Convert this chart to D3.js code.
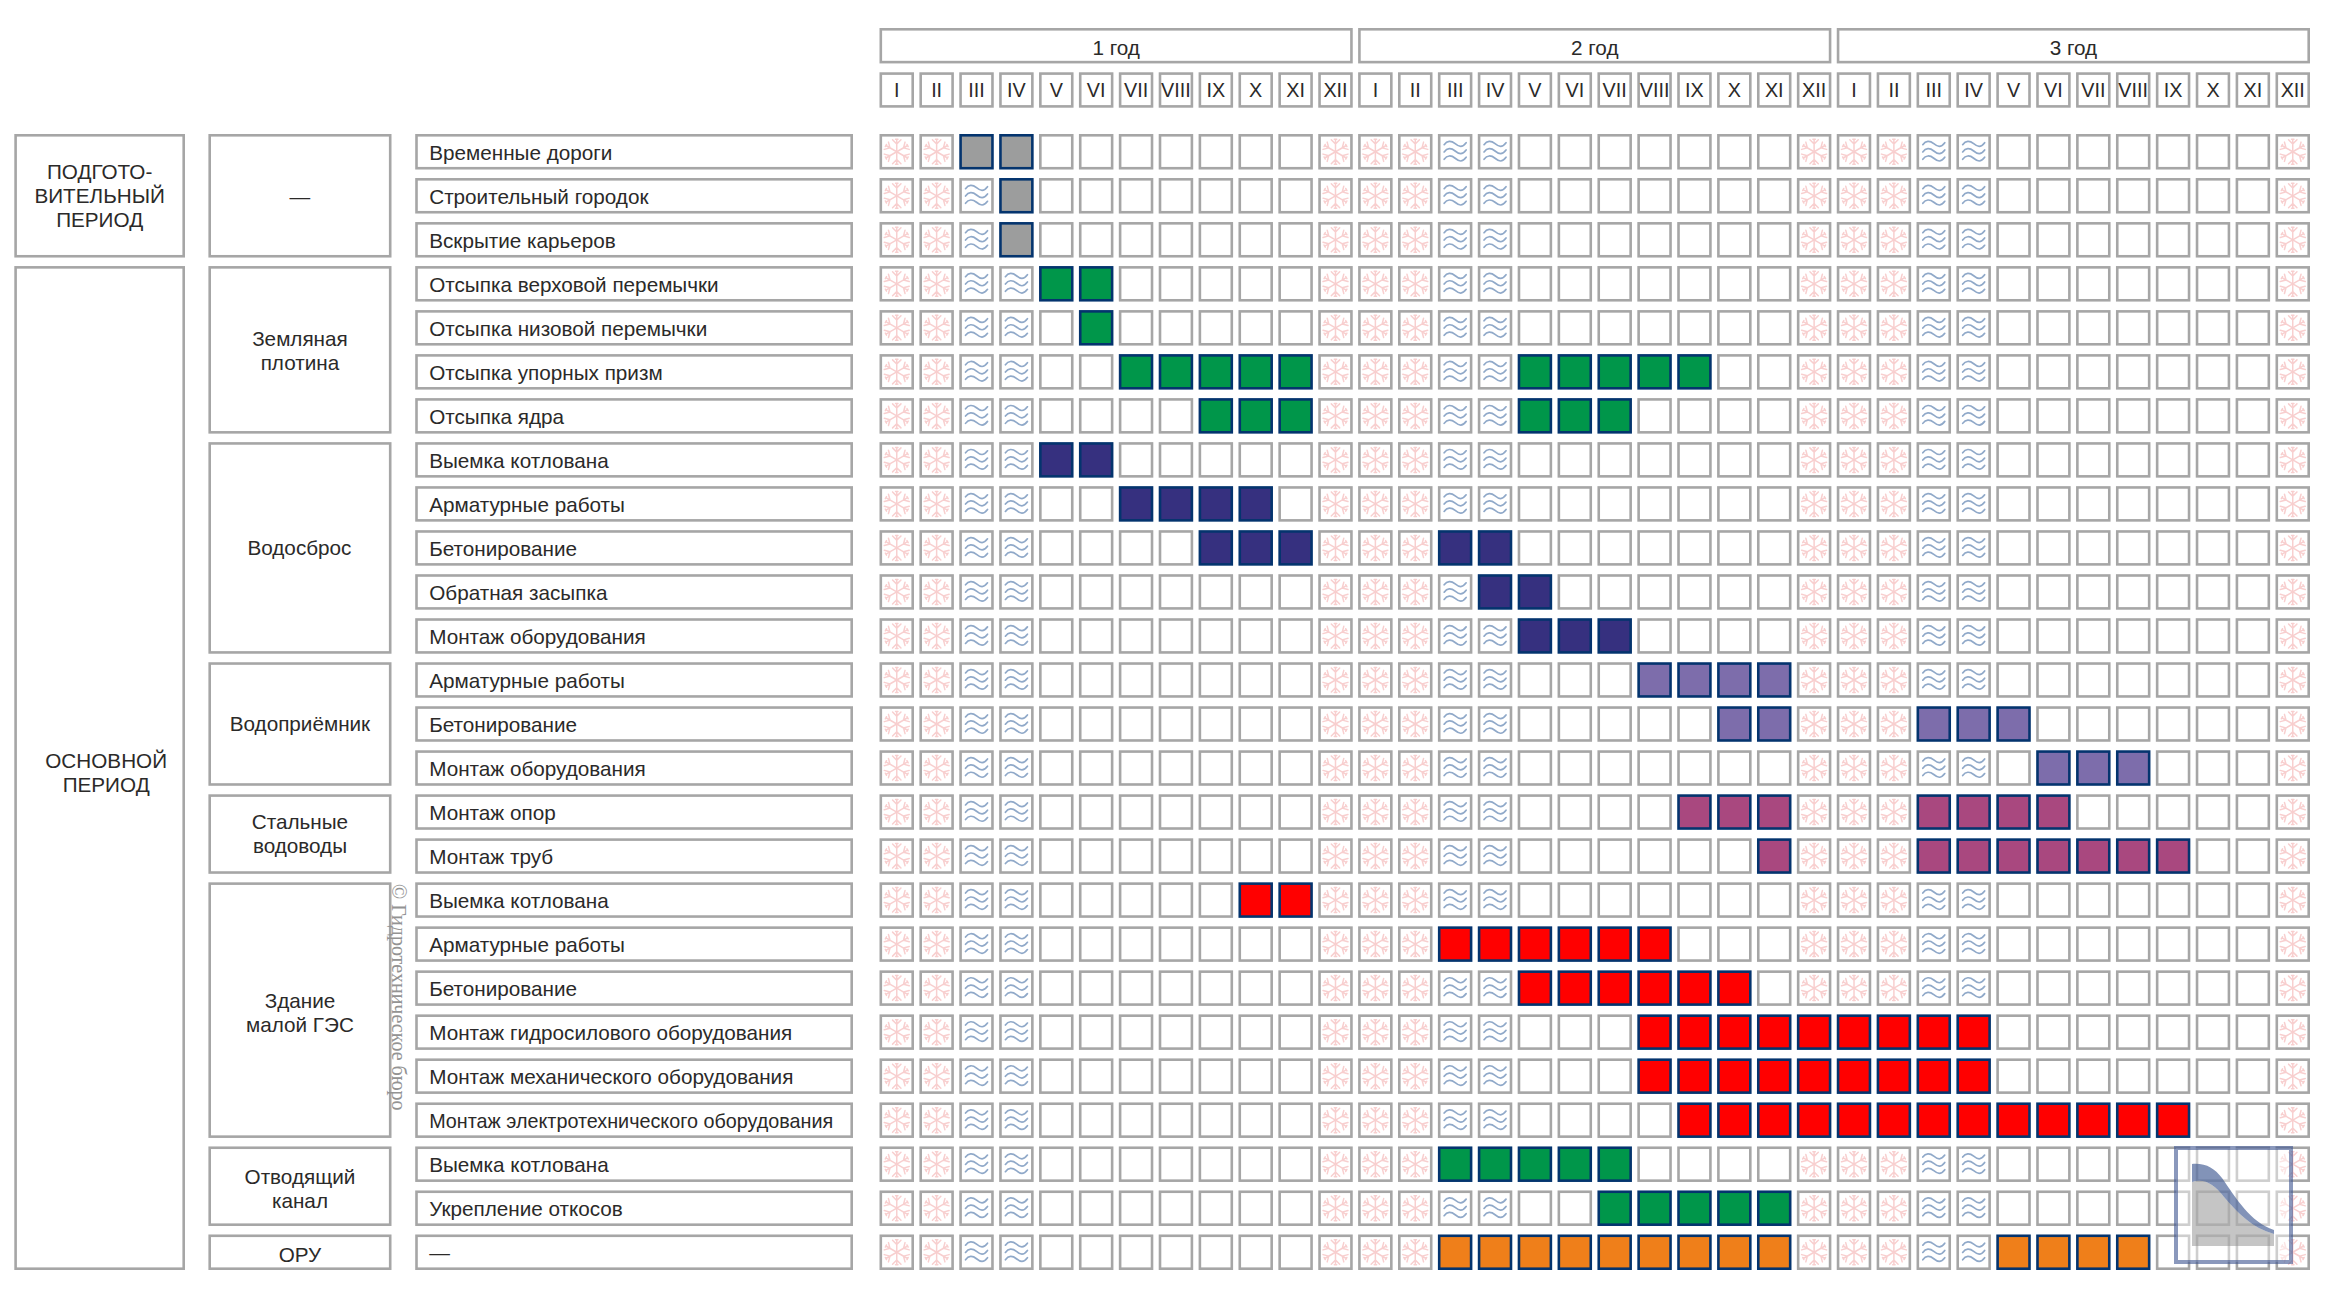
<!DOCTYPE html>
<html lang="ru">
<head>
<meta charset="utf-8">
<title>Календарный график строительства</title>
<script src="https://cdnjs.cloudflare.com/ajax/libs/d3/7.9.0/d3.min.js"></script>
<style>
html,body{margin:0;padding:0;background:#fff;}
svg{display:block;}
text{font-family:"Liberation Sans",Arial,sans-serif;fill:#2b2a29;}
</style>
</head>
<body>
<svg id="chart" width="2328" height="1300" viewBox="0 0 2328 1300"></svg>
<script>
// ---------- data ----------
const years = ["1 год", "2 год", "3 год"];
const months = ["I","II","III","IV","V","VI","VII","VIII","IX","X","XI","XII"];
const winterMonths = ["I","II","XII"];
const floodMonths = ["III","IV"];

const periods = [
  {lines:["ПОДГОТО-","ВИТЕЛЬНЫЙ","ПЕРИОД"], count:3},
  {lines:["ОСНОВНОЙ","ПЕРИОД"], count:23}
];
const groups = [
  {key:"prep",   lines:["—"], count:3},
  {key:"dam",    lines:["Земляная","плотина"], count:4},
  {key:"spill",  lines:["Водосброс"], count:5},
  {key:"intake", lines:["Водоприёмник"], count:3},
  {key:"pipes",  lines:["Стальные","водоводы"], count:2},
  {key:"hpp",    lines:["Здание","малой ГЭС"], count:6},
  {key:"canal",  lines:["Отводящий","канал"], count:2},
  {key:"switch", lines:["ОРУ"], count:1}
];
const tasks = [
  "Временные дороги","Строительный городок","Вскрытие карьеров",
  "Отсыпка верховой перемычки","Отсыпка низовой перемычки","Отсыпка упорных призм","Отсыпка ядра",
  "Выемка котлована","Арматурные работы","Бетонирование","Обратная засыпка","Монтаж оборудования",
  "Арматурные работы","Бетонирование","Монтаж оборудования",
  "Монтаж опор","Монтаж труб",
  "Выемка котлована","Арматурные работы","Бетонирование","Монтаж гидросилового оборудования","Монтаж механического оборудования","Монтаж электротехнического оборудования",
  "Выемка котлована","Укрепление откосов",
  "—"
];
// working spans per task: [first month, last month] counted from month 0 of year 1
const workSpans = [
  [[2,3]],[[3,3]],[[3,3]],
  [[4,5]],[[5,5]],[[6,10],[16,20]],[[8,10],[16,18]],
  [[4,5]],[[6,9]],[[8,10],[14,15]],[[15,16]],[[16,18]],
  [[19,22]],[[21,22],[26,28]],[[29,31]],
  [[20,22],[26,29]],[[22,22],[26,32]],
  [[9,10]],[[14,19]],[[16,21]],[[19,27]],[[19,27]],[[20,32]],
  [[14,18]],[[18,22]],
  [[14,22],[28,31]]
];
const watermark = "© Гидротехническое бюро";

// ---------- styles ----------
const groupColor = {prep:"#9c9d9d",dam:"#00964a",spill:"#36307f",intake:"#7d6dab",pipes:"#a9487f",hpp:"#ff0000",canal:"#00964a",switch:"#ef7f1a"};
const boxStroke = "#a6a6a6", workStroke = "#04346e";
const snowColor = "#f8cfcf", waveColor = "#90a9c9";
const fs = 20.7, monthFs = 19.8, sw = 2.6;
// label nudges, layout only
const periodNudge = [[0,-1],[6.5,4]];
const groupNudge = {spill:[-0.5,-1.5],intake:[0,-1],pipes:[0,-1.5],hpp:[0,1.5],canal:[0,1.5],switch:[0,1]};
const squeezedWidth = {"Монтаж электротехнического оборудования":404};

// ---------- scales ----------
const allMonths = d3.range(years.length * months.length);
const rows = d3.range(tasks.length);
const x = d3.scaleBand().domain(allMonths).range([879.5, 2310]).paddingInner(0.135);
const y = d3.scaleBand().domain(rows).range([134, 1270]).paddingInner(0.193);
const headY = d3.scaleBand().domain(["year","month"]).range([28, 107.7]).paddingInner(0.2);
const edges = {period:[14.3,185], group:[208.4,391.5], task:[415.2,853]};

const svg = d3.select("#chart");

function box(g, x0, y0, x1, y1, stroke, fill){
  return g.append("rect")
    .attr("x", x0 + sw/2).attr("y", y0 + sw/2)
    .attr("width", x1 - x0 - sw).attr("height", y1 - y0 - sw)
    .attr("fill", fill || "#fff").attr("stroke", stroke).attr("stroke-width", sw);
}
function centeredLines(g, cx, cy, lines, lh){
  const t = g.append("text").attr("text-anchor","middle").attr("font-size",fs);
  lines.forEach((l,i)=>{
    t.append("tspan").attr("x",cx)
     .attr("y", cy + (i-(lines.length-1)/2)*lh + fs*0.36 + 1).text(l);
  });
}

// ---------- headers ----------
const head = svg.append("g");
years.forEach((yr,i)=>{
  const a = x(i*months.length), b = x((i+1)*months.length-1)+x.bandwidth();
  box(head,a,headY("year"),b,headY("year")+headY.bandwidth(),boxStroke);
  head.append("text").attr("x",(a+b)/2).attr("y",headY("year")+headY.bandwidth()/2+9)
    .attr("text-anchor","middle").attr("font-size",fs).text(yr);
});
allMonths.forEach(m=>{
  box(head,x(m),headY("month"),x(m)+x.bandwidth(),headY("month")+headY.bandwidth(),boxStroke);
  head.append("text").attr("x",x(m)+x.bandwidth()/2).attr("y",headY("month")+headY.bandwidth()/2+7.5)
    .attr("text-anchor","middle").attr("font-size",monthFs).text(months[m%12]);
});

// ---------- left columns ----------
const left = svg.append("g");
function spanBoxes(items, edge, nudgeOf){
  let r = 0;
  items.forEach((it,i)=>{
    const y0 = y(r), y1 = y(r+it.count-1)+y.bandwidth();
    const n = nudgeOf(it,i) || [0,0];
    box(left,edge[0],y0,edge[1],y1,boxStroke);
    centeredLines(left,(edge[0]+edge[1])/2+n[0],(y0+y1)/2+n[1],it.lines,24);
    r += it.count;
  });
}
spanBoxes(periods, edges.period, (it,i)=>periodNudge[i]);
spanBoxes(groups, edges.group, it=>groupNudge[it.key]);
tasks.forEach((t,r)=>{
  box(left,edges.task[0],y(r),edges.task[1],y(r)+y.bandwidth(),boxStroke);
  const label = left.append("text").attr("x",edges.task[0]+14).attr("y",y(r)+y.bandwidth()/2+8)
    .attr("font-size",fs).text(t);
  if(squeezedWidth[t]) label.attr("textLength",squeezedWidth[t]).attr("lengthAdjust","spacingAndGlyphs");
});

// ---------- grid ----------
const rowGroup = [];
groups.forEach(g=>{ for(let i=0;i<g.count;i++) rowGroup.push(g.key); });

const snowArm = "M0,0V-12.5M0,-7.8L-4.2,-12M0,-7.8L4.2,-12M-1.2,-12.5H1.2";
function drawSnow(g,cx,cy){
  const s = g.append("g").attr("transform",`translate(${cx},${cy})`)
    .attr("fill","none").attr("stroke",snowColor).attr("stroke-width",1.5).attr("stroke-linecap","round");
  d3.range(6).forEach(k=>s.append("path").attr("d",snowArm).attr("transform",`rotate(${k*60})`));
}
function drawWaves(g,cx,cy){
  const w = g.append("g").attr("transform",`translate(${cx},${cy})`)
    .attr("fill","none").attr("stroke",waveColor).attr("stroke-width",1.7).attr("stroke-linecap","round");
  [-7.3,0,7.3].forEach(dy=>{
    w.append("path").attr("d",`M-11,${dy+0.2}C-8,${dy-4} -4,${dy-4} 0,${dy-0.8}S7,${dy+3.6} 11,${dy-1.8}`);
  });
}
const grid = svg.append("g");
rows.forEach(r=>{
  const isWork = m => workSpans[r].some(s=>m>=s[0]&&m<=s[1]);
  allMonths.forEach(m=>{
    const bx=x(m), by=y(r), w=x.bandwidth(), h=y.bandwidth();
    const cx=bx+w/2, cy=by+h/2;
    if(isWork(m)){
      box(grid,bx,by,bx+w,by+h,workStroke,groupColor[rowGroup[r]]);
    }else{
      box(grid,bx,by,bx+w,by+h,boxStroke);
      if(winterMonths.includes(months[m%12])) drawSnow(grid,cx,cy);
      else if(floodMonths.includes(months[m%12])) drawWaves(grid,cx,cy);
    }
  });
});

// ---------- watermark ----------
svg.append("text")
  .attr("transform","translate(391.5,884) rotate(90)")
  .style("font-family",'"Liberation Serif",serif').style("fill","#939393")
  .attr("font-size",20).text(watermark);

// ---------- logo ----------
const logo = svg.append("g");
logo.append("rect").attr("x",2176).attr("y",1148).attr("width",115).attr("height",114)
  .attr("fill","#fff").attr("fill-opacity",0.45)
  .attr("stroke","#3c5390").attr("stroke-opacity",0.6).attr("stroke-width",4);
logo.append("path")
  .attr("d","M2192,1182C2204,1178 2214,1184 2224,1197C2238,1213 2252,1228 2274,1234V1246H2192Z")
  .attr("fill","#8c8c8c").attr("fill-opacity",0.5);
logo.append("path")
  .attr("d","M2192,1164C2206,1163 2214,1168 2222,1178C2236,1198 2250,1222 2274,1230V1234C2252,1228 2238,1213 2224,1197C2214,1184 2204,1178 2192,1182Z")
  .attr("fill","#35508c").attr("fill-opacity",0.62);
</script>
</body>
</html>
